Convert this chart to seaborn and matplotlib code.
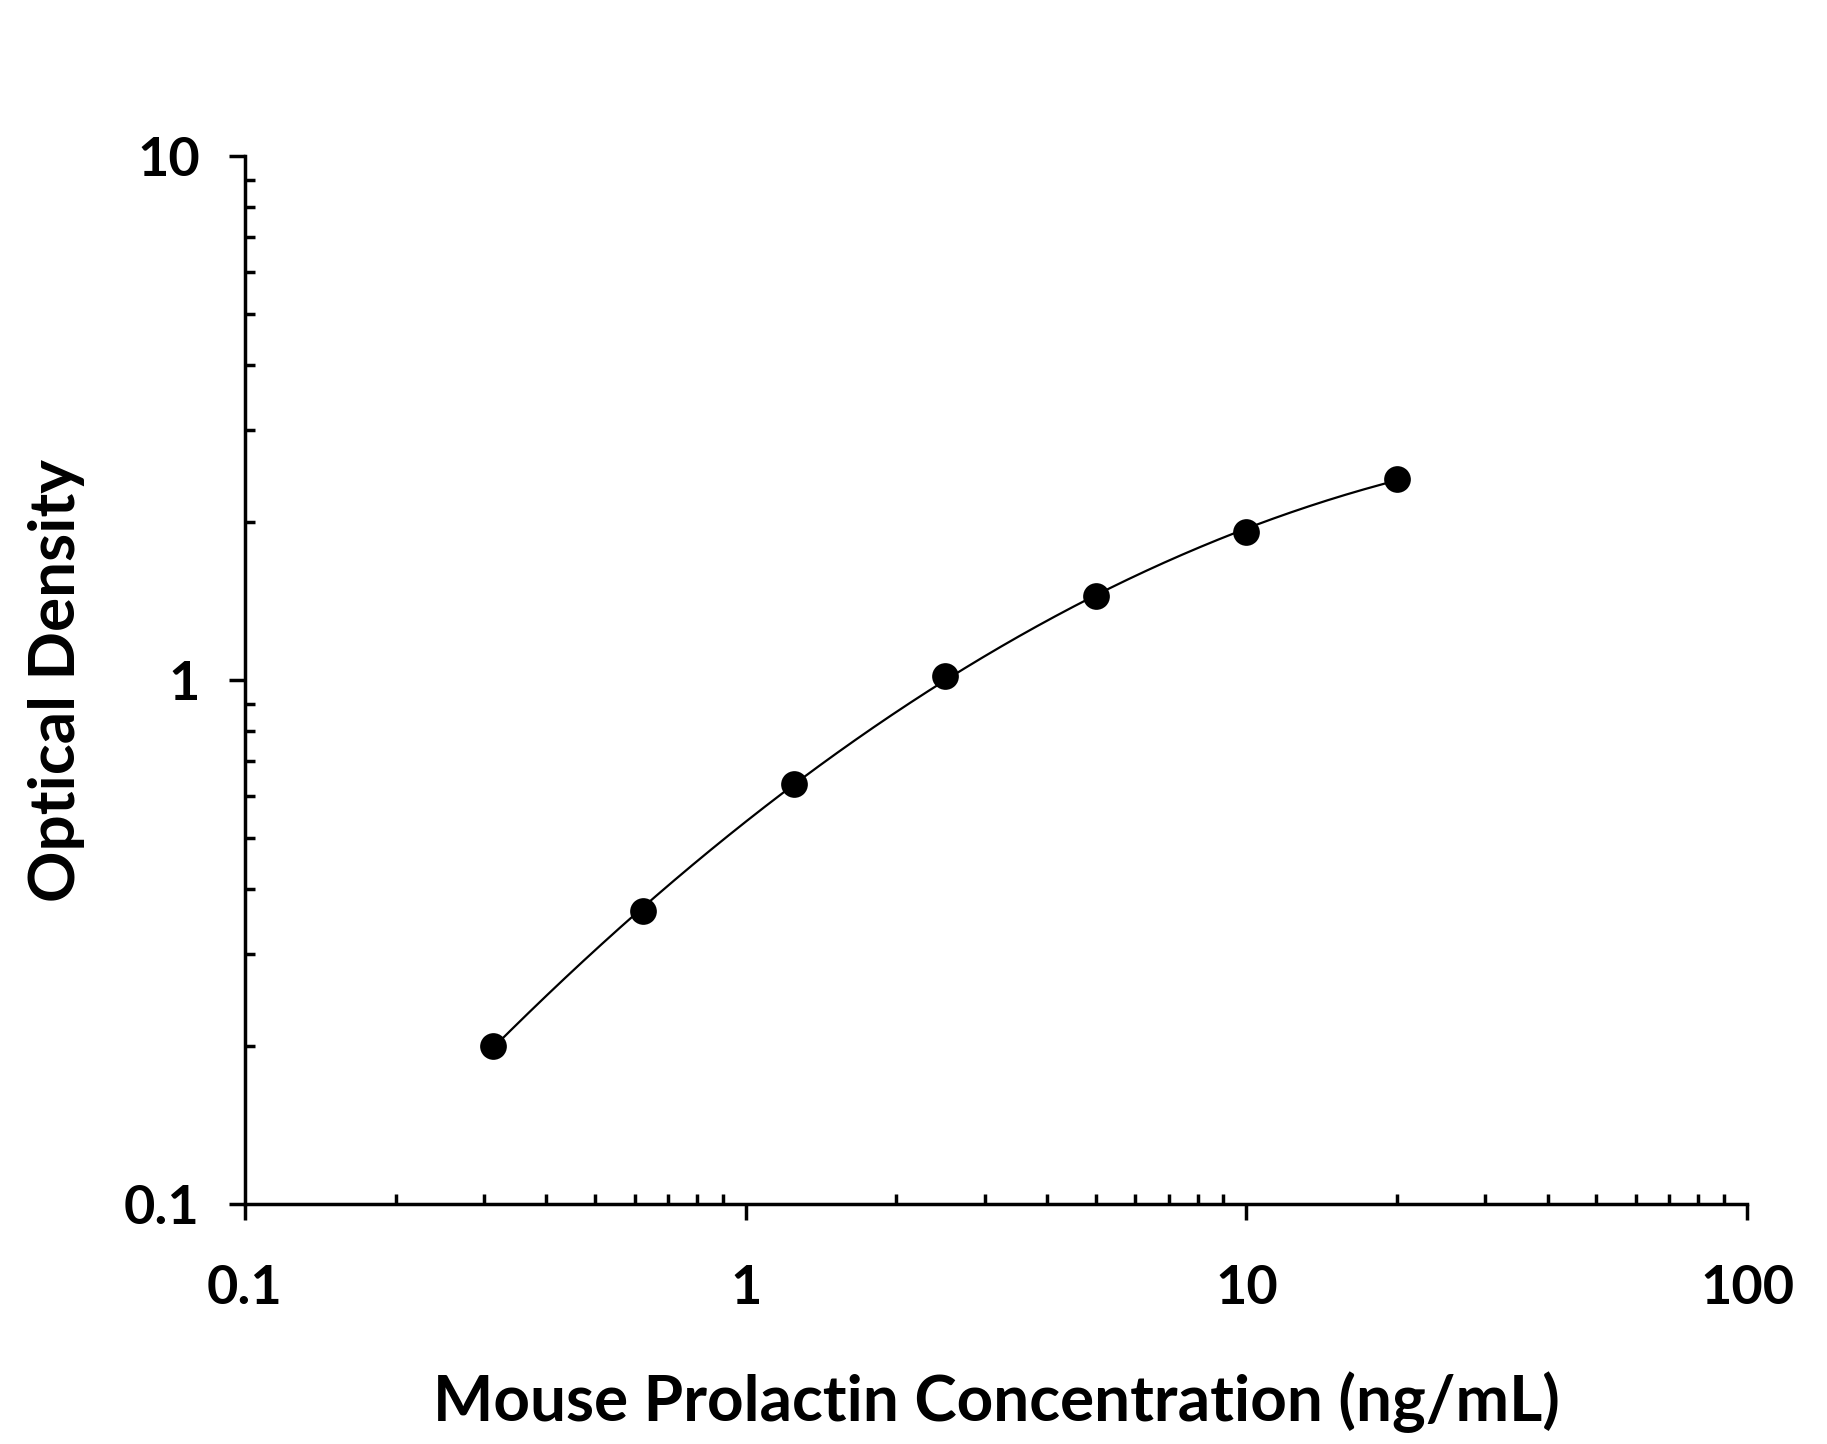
import numpy as np
import pandas as pd
import matplotlib
matplotlib.use('Agg')
import matplotlib.pyplot as plt
import seaborn as sns
from matplotlib.ticker import FixedLocator, FixedFormatter, LogLocator, NullFormatter

# ---- data ----
concentration = [0.3125, 0.625, 1.25, 2.5, 5, 10, 20]
optical_density = [0.200, 0.362, 0.633, 1.019, 1.446, 1.916, 2.422]
x_ticks = [0.1, 1, 10, 100]
x_tick_labels = ['0.1', '1', '10', '100']
y_ticks = [0.1, 1, 10]
y_tick_labels = ['0.1', '1', '10']
x_label = 'Mouse Prolactin Concentration (ng/mL)'
y_label = 'Optical Density'

sns.set_style('ticks')
plt.rcParams['font.family'] = ['Lato', 'DejaVu Sans']
plt.rcParams['font.weight'] = 'bold'

W, H = 1827, 1444
fig = plt.figure(figsize=(W / 100, H / 100), dpi=100)
ax = fig.add_axes([245 / W, 1 - 1204 / H, 1502 / W, 1048 / H])

df = pd.DataFrame({'conc': concentration, 'od': optical_density})

# fitted standard curve (cubic in log-log space, fitted to the points)
lx = np.log10(df['conc'].to_numpy())
ly = np.log10(df['od'].to_numpy())
coef = np.polyfit(lx, ly, 3)
xs = np.logspace(lx.min(), lx.max(), 300)
fit = pd.DataFrame({'conc': xs, 'od': 10 ** np.polyval(coef, np.log10(xs))})

sns.lineplot(data=fit, x='conc', y='od', color='black', linewidth=1.6, ax=ax, zorder=2)
sns.scatterplot(data=df, x='conc', y='od', color='black', s=370, linewidth=0, ax=ax, zorder=3)

ax.set_xscale('log')
ax.set_yscale('log')
ax.set_xlim(0.1, 100)
ax.set_ylim(0.1, 10)

for s in ['top', 'right']:
    ax.spines[s].set_visible(False)
for s in ['left', 'bottom']:
    ax.spines[s].set_linewidth(2.5)
    ax.spines[s].set_color('black')

ax.xaxis.set_major_locator(FixedLocator(x_ticks))
ax.xaxis.set_major_formatter(FixedFormatter(x_tick_labels))
ax.yaxis.set_major_locator(FixedLocator(y_ticks))
ax.yaxis.set_major_formatter(FixedFormatter(y_tick_labels))
for axis in (ax.xaxis, ax.yaxis):
    axis.set_minor_locator(LogLocator(base=10, subs=np.arange(2, 10)))
    axis.set_minor_formatter(NullFormatter())

ax.tick_params(which='major', direction='out', length=11.5, width=2.5, color='black',
               labelsize=39, labelcolor='black')
ax.tick_params(which='minor', direction='in', length=7.2, width=2.5, color='black')
ax.tick_params(axis='x', which='major', pad=32)
ax.tick_params(axis='y', which='major', pad=21)
for lab in ax.get_xticklabels() + ax.get_yticklabels():
    lab.set_fontweight('bold')

ax.set_xlabel(x_label, fontsize=46, fontweight='bold', color='black')
ax.set_ylabel(y_label, fontsize=46, fontweight='bold', color='black')
ax.xaxis.label.set_va('baseline')
ax.xaxis.set_label_coords(0.5, -0.2071)
ax.yaxis.label.set_va('baseline')
ax.yaxis.set_label_coords(-0.1132, 0.5)

fig.savefig('out.png', dpi=100)
